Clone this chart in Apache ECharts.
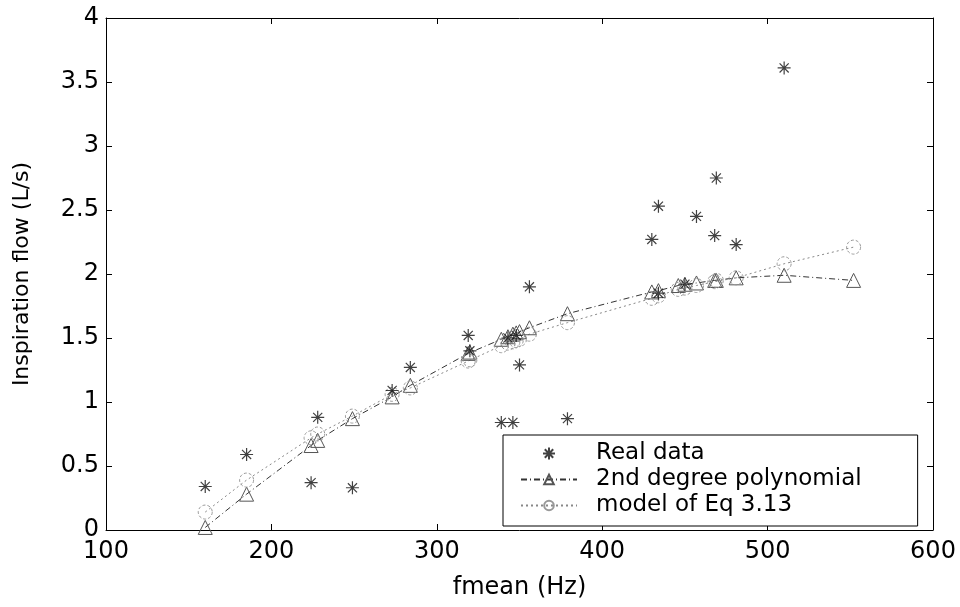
<!DOCTYPE html>
<html>
<head>
<meta charset="utf-8">
<script src="https://cdn.jsdelivr.net/npm/echarts@6/dist/echarts.min.js"></script>
<style>
  html, body { margin: 0; padding: 0; background: #fff; }
  #chart { width: 960px; height: 607px; }
</style>
</head>
<body>
<div id="chart"></div>
<script>
// measured points (fmean Hz, flow L/s)
var realX = [160, 185, 224, 228, 249, 273, 284, 319, 320, 339, 343, 346, 348, 350, 356, 379, 430, 434, 434, 450, 457, 468, 469, 481, 510]
var realY = [0.34, 0.59, 0.37, 0.88, 0.33, 1.09, 1.27, 1.52, 1.40, 0.84, 1.50, 0.84, 1.52, 1.29, 1.90, 0.87, 2.27, 2.53, 1.85, 1.92, 2.45, 2.30, 2.75, 2.23, 3.61]

// fitted curves, evaluated at these x
var fitX = [160, 185, 224, 228, 249, 273, 284, 319, 320, 339, 343, 346, 348, 350, 356, 379, 430, 434, 446, 450, 457, 468, 469, 481, 510, 552]
var polyY = [0.02, 0.28, 0.66, 0.70, 0.87, 1.04, 1.13, 1.38, 1.39, 1.49, 1.51, 1.53, 1.54, 1.55, 1.58, 1.69, 1.86, 1.87, 1.91, 1.92, 1.93, 1.95, 1.95, 1.97, 1.99, 1.95]
var modelY = [0.14, 0.39, 0.72, 0.75, 0.89, 1.06, 1.11, 1.32, 1.33, 1.44, 1.46, 1.47, 1.48, 1.49, 1.53, 1.62, 1.81, 1.83, 1.88, 1.89, 1.91, 1.94, 1.95, 1.97, 2.08, 2.21]

var xTicks = [100, 200, 300, 400, 500, 600]
var yTicks = [0, 0.5, 1, 1.5, 2, 2.5, 3, 3.5, 4]

function pairs(xs, ys) {
  return xs.map(function (x, i) { return [x, ys[i]] })
}

var font = 'DejaVu Sans, sans-serif'
var star = 'path://M0,5L10,5M5,0L5,10M1.5,1.5L8.5,8.5M1.5,8.5L8.5,1.5'

var chart = echarts.init(document.getElementById('chart'))

var axisBase = {
  axisLine: { show: true, onZero: false, lineStyle: { color: '#000', width: 1 } },
  axisTick: { show: true, inside: true, length: 6, lineStyle: { color: '#000' } },
  splitLine: { show: false }
}

chart.setOption({
  animation: false,
  backgroundColor: '#fff',
  grid: { left: 106, right: 27, top: 18, bottom: 77 },
  xAxis: [
    Object.assign({}, axisBase, {
      type: 'value', min: xTicks[0], max: xTicks[xTicks.length - 1], interval: 100,
      name: 'fmean (Hz)', nameLocation: 'middle', nameGap: 46,
      nameTextStyle: { fontFamily: font, fontSize: 24, color: '#000' },
      axisLabel: { fontFamily: font, fontSize: 24, color: '#000', margin: 10 }
    }),
    Object.assign({}, axisBase, {
      type: 'value', position: 'top', min: 100, max: 600, interval: 100,
      axisLabel: { show: false }
    })
  ],
  yAxis: [
    Object.assign({}, axisBase, {
      type: 'value', min: yTicks[0], max: yTicks[yTicks.length - 1], interval: 0.5,
      name: 'Inspiration flow (L/s)', nameLocation: 'middle', nameGap: 73,
      nameTextStyle: { fontFamily: font, fontSize: 22, color: '#000' },
      axisLabel: { fontFamily: font, fontSize: 24, color: '#000', margin: 7 }
    }),
    Object.assign({}, axisBase, {
      type: 'value', position: 'right', min: 0, max: 4, interval: 0.5,
      axisLabel: { show: false }
    })
  ],
  legend: {
    orient: 'vertical',
    left: 503, top: 435,
    padding: [7, 56, 9, 17],
    backgroundColor: '#fff',
    borderColor: '#000', borderWidth: 1,
    itemWidth: 56, itemHeight: 12, itemGap: 3,
    textStyle: { fontFamily: font, fontSize: 23, color: '#000', padding: [0, 0, 0, 14] },
    data: ['Real data', '2nd degree polynomial', 'model of Eq 3.13']
  },
  series: [
    {
      name: '2nd degree polynomial',
      type: 'line',
      data: pairs(fitX, polyY),
      symbol: 'triangle',
      symbolSize: 14,
      lineStyle: { color: '#333', width: 1, type: [6, 3, 1, 3] },
      itemStyle: { color: 'rgba(0,0,0,0)', borderColor: '#555', borderWidth: 1 },
      z: 2
    },
    {
      name: 'model of Eq 3.13',
      type: 'line',
      data: pairs(fitX, modelY),
      symbol: 'circle',
      symbolSize: 14,
      lineStyle: { color: '#888', width: 1, type: [2, 3] },
      itemStyle: { color: 'rgba(0,0,0,0)', borderColor: '#999', borderWidth: 1, borderType: [3, 2] },
      z: 2
    },
    {
      name: 'Real data',
      type: 'scatter',
      data: pairs(realX, realY),
      symbol: star,
      symbolSize: 13,
      itemStyle: { color: 'rgba(0,0,0,0)', borderColor: '#111', borderWidth: 1.2 },
      z: 3
    }
  ]
})
</script>
</body>
</html>
